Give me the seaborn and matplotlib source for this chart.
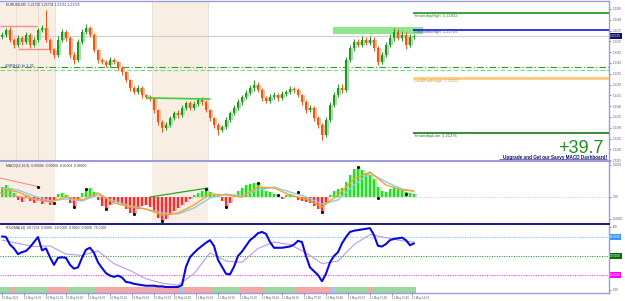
import numpy as np
import pandas as pd
import matplotlib
matplotlib.use("Agg")
import matplotlib.pyplot as plt
import seaborn as sns

sns.set_theme(style="white")
plt.rcParams['font.family'] = ['Liberation Sans', 'DejaVu Sans']

# ---------------- data ----------------
first_open = 1.21720
closes = [
    1.21730, 1.21753, 1.21707, 1.21683, 1.21716, 1.21697, 1.21730, 1.21683, 1.21707, 1.21753,
    1.21762, 1.21707, 1.21660, 1.21637, 1.21707, 1.21744, 1.21716, 1.21637, 1.21614, 1.21697,
    1.21744, 1.21762, 1.21730, 1.21660, 1.21614, 1.21605, 1.21591, 1.21614, 1.21605, 1.21577,
    1.21558, 1.21521, 1.21484, 1.21466, 1.21484, 1.21452, 1.21443, 1.21433, 1.21382, 1.21327,
    1.21299, 1.21313, 1.21345, 1.21369, 1.21359, 1.21392, 1.21415, 1.21392, 1.21410, 1.21429,
    1.21419, 1.21382, 1.21345, 1.21313, 1.21290, 1.21304, 1.21336, 1.21369, 1.21392, 1.21419,
    1.21443, 1.21461, 1.21484, 1.21498, 1.21475, 1.21438, 1.21424, 1.21443, 1.21452, 1.21438,
    1.21457, 1.21466, 1.21480, 1.21475, 1.21452, 1.21419, 1.21382, 1.21392, 1.21345, 1.21313,
    1.21267, 1.21336, 1.21406, 1.21452, 1.21484, 1.21475, 1.21614, 1.21669, 1.21697, 1.21683,
    1.21707, 1.21693, 1.21707, 1.21669, 1.21605, 1.21637, 1.21683, 1.21716, 1.21744, 1.21716,
    1.21730, 1.21683, 1.21720, 1.21725]
wick_up_pts = [
    12, 10, 15, 8, 14, 10, 12, 9, 15, 10,
    14, 83, 10, 8, 16, 12, 10, 8, 12, 15,
    12, 18, 10, 8, 6, 10, 8, 12, 9, 6,
    8, 6, 7, 10, 12, 8, 6, 9, 5, 6,
    8, 12, 10, 8, 12, 14, 10, 8, 12, 10,
    14, 8, 6, 7, 8, 10, 12, 10, 12, 14,
    10, 12, 14, 24, 12, 8, 10, 12, 14, 10,
    12, 10, 14, 10, 8, 6, 10, 12, 8, 10,
    8, 12, 14, 12, 18, 20, 14, 16, 12, 14,
    16, 12, 20, 14, 10, 12, 14, 18, 16, 14,
    16, 12, 14, 8]
wick_dn_pts = [
    10, 12, 8, 14, 10, 12, 8, 15, 10, 12,
    8, 10, 14, 12, 8, 10, 12, 14, 18, 10,
    8, 10, 12, 10, 14, 12, 10, 8, 12, 10,
    12, 10, 14, 10, 8, 12, 10, 8, 12, 14,
    18, 10, 8, 10, 12, 8, 10, 12, 8, 10,
    12, 10, 14, 12, 23, 10, 8, 10, 8, 10,
    12, 8, 10, 12, 10, 12, 10, 8, 10, 12,
    10, 8, 10, 12, 10, 12, 14, 10, 12, 14,
    23, 10, 8, 12, 10, 12, 8, 10, 12, 10,
    8, 12, 10, 14, 16, 12, 10, 8, 12, 10,
    12, 16, 10, 8]

price_ticks = [1.2185, 1.2180, 1.2175, 1.2170, 1.2165, 1.2160, 1.2155, 1.2150,
               1.2145, 1.2140, 1.2135, 1.2130, 1.2125, 1.2120, 1.2115]

level_names = ["YesterdayHigh", "LastWeekHigh", "LastMonthHigh", "YesterdayLow"]
level_values = [1.21832, 1.21755, 1.21531, 1.21276]
level_colors = ["#1f8f1f", "#1010ee", "#ffca78", "#157a15"]
level_widths = [1.2, 1.2, 2.0, 1.2]

zone_low, zone_high = 1.21734, 1.21767
sr_dashdot = 1.21582
sr_dashed = 1.21568
bid_price = 1.21725
pips_text = "+39.7"

# MACD histogram (points = 1e-5)
macd_hist_pts = [
    10, 12, 9, 4, -3, -5, 2, -4, -6, -3,
    -7, -5, -8, -4, 3, 4, 2, -6, -10, -4,
    4, 8, 9, 5, -3, -9, -12, -8, -5, -6,
    -8, -12, -16, -17, -12, -9, -8, -10, -15, -21,
    -24, -22, -18, -14, -11, -8, -5, -2, 2, 4,
    6, 8, 5, 2, 3, -4, -10, -6, 2, 6,
    9, 12, 13, 14, 14, 9, 6, 5, 3, 1,
    -2, 2, 3, 1, -3, -4, -5, -6, -9, -12,
    -15, -6, 2, 6, 8, 9, 15, 22, 28, 30,
    27, 24, 22, 18, 10, 6, 5, 8, 9, 8,
    7, 5, 4, 3]
line_idx = [0, 4, 8, 12, 16, 20, 24, 28, 32, 36, 40, 44, 48, 52, 56,
            60, 64, 68, 72, 76, 80, 84, 88, 92, 96, 100, 103]
macd_orange_pts = [8, 5, -2, -5, 0, -3, 4, -6, -10, -12, -18, -16, -8, 3, 2,
                   0, 10, 9, 2, -2, -10, 2, 18, 25, 12, 7, 6]
macd_blue_pts = [9, 7, 1, -4, -2, -4, 2, -4, -9, -12, -16, -17, -11, -1, 3,
                 1, 7, 10, 5, 0, -7, -3, 12, 24, 15, 8, 6]
dot_idx = [9, 13, 18, 21, 26, 33, 40, 51, 56, 64, 69, 74, 80, 89, 94, 101]
dot_pts = [10, -6, -10, 8, -12, -17, -24, 8, -10, 14, 2, 5, -15, 30, -1, 3]

# Oscillator
osc_main = [
    81, 80, 68, 62, 53, 56, 58, 64, 72, 80,
    59, 62, 48, 36, 47, 48, 47, 36, 30, 32,
    47, 60, 63, 55, 40, 31, 23, 19, 17, 19,
    16, 9, 8, 6, 5, 4, 3, 3, 3, 2,
    2, 1, 1, 1, 1, 4, 33, 48, 55, 61,
    66, 71, 75, 66, 44, 33, 22, 21, 33, 50,
    57, 66, 75, 80, 86, 88, 85, 72, 63, 63,
    63, 64, 65, 68, 74, 72, 50, 32, 26, 20,
    10, 22, 40, 50, 56, 70, 80, 88, 90, 91,
    92, 93, 94, 83, 66, 65, 69, 75, 77, 78,
    79, 75, 67, 70]
osc_signal = [75, 70, 65, 66, 53, 51, 58, 38, 27, 14, 7, 4, 22, 55, 42,
              40, 62, 72, 68, 55, 38, 42, 68, 84, 79, 74, 72]
osc_levels = [80, 50, 20]
osc_level_colors = ["#7cc4f8", "#3a9a3a", "#ff40ff"]
osc_level_box = ["#3399ff", "#0b6b0b", "#ff00ff"]
strip_state = ("gggrgggggggg" "rrrrr" "ggggggg" "rrrrrrrrrrrrrrrrrrrrr" "b"
               "rrrrrrr" "ggggggg" "rrrrrr" "gggggggg" "rrrrrrrrr" "b"
               "gggggggg" "r" "ggggggggggg")

time_idx = [0, 5.5, 11, 16, 21.5, 27, 32.5, 38, 43, 48.5, 54, 59.5, 65, 70,
            75.5, 81, 86.5, 92, 97.5, 102.5]
time_labels = ["10 May 2021", "10 May 14:00", "10 May 15:20", "10 May 16:40",
               "10 May 18:00", "10 May 19:20", "10 May 20:40", "10 May 22:00",
               "10 May 23:20", "11 May 00:40", "11 May 02:00", "11 May 03:20",
               "11 May 04:40", "11 May 06:00", "11 May 07:20", "11 May 08:40",
               "11 May 10:00", "11 May 11:20", "11 May 12:40", "11 May 14:00"]

# ---------------- figure ----------------
W, H = 625, 301
fig = plt.figure(figsize=(W / 100, H / 100), dpi=100)
fig.patch.set_facecolor("white")
right_frac = 609 / W
ax_main = fig.add_axes([0, 1 - 161 / H, right_frac, 160 / H])
ax_macd = fig.add_axes([0, 1 - 224 / H, right_frac, 62 / H])
ax_osc = fig.add_axes([0, 1 - 293 / H, right_frac, 68 / H])

SMALL = 2.2
xlim = (-0.5, 151.75)
frame = "#9c9cdc"
for ax in (ax_main, ax_macd, ax_osc):
    ax.set_facecolor("white")
    ax.set_xlim(*xlim)
    for s in ax.spines.values():
        s.set_color(frame)
        s.set_linewidth(1.0)
    ax.spines["left"].set_visible(False)
    ax.yaxis.tick_right()
    ax.tick_params(axis="y", labelsize=SMALL, length=1.5, width=0.5, pad=1,
                   colors="#55557a", right=True)
    ax.tick_params(axis="x", bottom=False, labelbottom=False)
ax_main.spines["bottom"].set_linewidth(2.2)
ax_macd.spines["top"].set_visible(False)
ax_macd.spines["bottom"].set_color("#1a1a80")
ax_macd.spines["bottom"].set_linewidth(1.4)
ax_osc.spines["top"].set_visible(False)

band_color = "#f9eee3"
for ax in (ax_main, ax_macd):
    ax.axvspan(-0.5, 13.25, color=band_color, lw=0, zorder=0)
    ax.axvspan(37.5, 51.5, color=band_color, lw=0, zorder=0)
for xv in (3.5, 9.0, 13.25, 37.5, 51.5):
    ax_main.axvline(xv, color="#e2d8cc", lw=0.5, zorder=0.5)

# ---------- main candles ----------
n = len(closes)
idx = np.arange(n)
c = np.array(closes)
o = np.array([first_open] + closes[:-1])
hi = np.maximum(o, c) + np.array(wick_up_pts) * 1e-5
lo = np.minimum(o, c) - np.array(wick_dn_pts) * 1e-5
bull = c >= o
body = np.where(np.abs(c - o) < 2e-6, 2e-6, c - o)
pale = np.where(bull, "#a6dca6", "#ffbe96")
strong = np.where(bull, "#1f9a1f", "#ff5010")
ax_main.bar(idx + 0.35, body, bottom=o, width=0.9, color=pale, lw=0, zorder=2)
ax_main.vlines(idx, lo, hi, colors=strong, lw=0.7, zorder=3)
ax_main.bar(idx, body, bottom=o, width=0.55, color=strong, lw=0, zorder=4)

ax_main.set_ylim(1.21146, 1.21887)
ax_main.set_yticks(price_ticks)
ax_main.set_yticklabels([f"{p:.4f}" for p in price_ticks])

# horizontal helpers
ax_main.axhline(bid_price, color="#cfcfcf", lw=0.8, zorder=1)
ax_main.axhline(sr_dashdot, color="#22aa22", lw=0.8, ls=(0, (6, 2, 1, 2)), zorder=1.5)
ax_main.axhline(sr_dashed, color="#77dd77", lw=0.8, ls=(0, (4, 2)), zorder=1.5)
ax_main.hlines(1.21771, -0.5, 8.75, color="#f29090", lw=1.0, zorder=1.6)
ax_main.hlines(1.21665, 4.0, 13.25, color="#f29090", lw=1.0, zorder=1.6)
ax_main.plot([36.25, 52.0], [1.21438, 1.21433], color="#3ccc3c", lw=1.2, zorder=5)

ax_main.fill_between([82.75, 105.25], zone_low, zone_high, color="#8fe68f",
                     lw=0, zorder=1.8)
for name, val, col, lw in zip(level_names, level_values, level_colors, level_widths):
    ax_main.hlines(val, 102.8, xlim[1], color=col, lw=lw, zorder=6)
    tcol = "#d49a30" if name == "LastMonthHigh" else ("#4a4aa0" if name == "LastWeekHigh" else col)
    ax_main.text(103.0, val - 0.00003, f"{name}  {val:.5f}", color=tcol,
                 fontsize=3.0, va="top", ha="left", zorder=7)

ax_main.text(0.8, sr_dashdot + 0.00002, "≡SR(H1) br 1.21", color="#303090",
             fontsize=2.8, va="center", ha="left", zorder=7)
ax_main.text(1.0, 1.21872, "EURUSD,M5  1.21720 1.21734 1.21711 1.21725",
             color="#333355", fontsize=2.4, va="center", ha="left")
ax_main.text(150.3, 1.21184, pips_text, color="#1e8c1e", fontsize=13,
             ha="right", va="baseline")
ax_main.text(151.2, 1.21161, "Upgrade and Get our Savvy MACD Dashboard!",
             color="#101070", fontsize=3.3, fontweight="bold", ha="right",
             va="center", zorder=7)
ax_main.hlines(1.21153, 124.3, 151.2, color="#101070", lw=0.4, zorder=7)
ax_main.text(1.002, bid_price, f"{bid_price:.5f}", transform=ax_main.get_yaxis_transform(),
             fontsize=SMALL, color="white", va="center", ha="left",
             bbox=dict(boxstyle="square,pad=0.2", fc="#10106a", ec="none"), clip_on=False)

# ---------- MACD ----------
hist = np.array(macd_hist_pts)
pos = hist >= 0
ax_macd.bar(idx + 0.3, hist, width=1.0, color=np.where(pos, "#a8f2a8", "#ffb8b8"),
            lw=0, zorder=2)
ax_macd.bar(idx, hist, width=0.6, color=np.where(pos, "#20e020", "#ff2a2a"),
            lw=0, zorder=3)
ax_macd.axhline(0, color="#bdbdbd", lw=0.6, ls=":", zorder=2.5)
macd_df = pd.DataFrame({"idx": line_idx, "orange": macd_orange_pts, "blue": macd_blue_pts})
sns.lineplot(data=macd_df, x="idx", y="blue", ax=ax_macd, color="#88ccf0", lw=1.0,
             legend=False, zorder=4)
sns.lineplot(data=macd_df, x="idx", y="orange", ax=ax_macd, color="#ffa020", lw=1.0,
             legend=False, zorder=4.5)
dots_df = pd.DataFrame({"idx": dot_idx, "v": dot_pts})
sns.scatterplot(data=dots_df, x="idx", y="v", ax=ax_macd, color="black", s=5,
                linewidth=0, zorder=6, legend=False)
ax_macd.plot([-0.5, 9.5], [19, 10], color="#f29090", lw=0.8, zorder=5)
ax_macd.plot([-0.5, 13.25], [4, -6], color="#f29090", lw=0.8, zorder=5)
ax_macd.plot([37.0, 51.5], [0, 9], color="#22aa22", lw=0.9, zorder=5)
ax_macd.set_ylim(-27, 35)
ax_macd.set_yticks([-22, 0, 32])
ax_macd.set_yticklabels(["-0.0002", "0.00", "0.0003"])
ax_macd.text(1.0, 31.5, "MACD(12,26,9)  0.00006  0.00008  0.00004  0.00002",
             color="#333355", fontsize=2.4, va="center", ha="left")
ax_macd.set_xlabel("")
ax_macd.set_ylabel("")

# ---------- Oscillator ----------
strip_cols = {"g": "#9ed69e", "r": "#f4a6a6", "b": "#9ccaf2"}
ax_osc.bar(idx, 9.0, bottom=-8.5, width=0.8, color=[strip_cols[s] for s in strip_state],
           lw=0, zorder=1)
for lv, col in zip(osc_levels, osc_level_colors):
    ax_osc.axhline(lv, color=col, lw=0.8, ls=(0, (1, 1.2)), zorder=1.5)
osc_df = pd.DataFrame({"idx": idx, "v": osc_main})
sig_df = pd.DataFrame({"idx": line_idx, "v": osc_signal})
sns.lineplot(data=sig_df, x="idx", y="v", ax=ax_osc, color="#b99ae6", lw=0.8,
             legend=False, zorder=2)
sns.lineplot(data=osc_df, x="idx", y="v", ax=ax_osc, color="#0a0ae0", lw=1.5,
             legend=False, zorder=3)
ax_osc.set_ylim(-8.5, 99)
ax_osc.set_yticks([-3, 96])
ax_osc.set_yticklabels(["0.00", "100"])
for lv, col in zip(osc_levels, osc_level_box):
    ax_osc.text(1.002, lv, f"{lv:.4f}", transform=ax_osc.get_yaxis_transform(),
                fontsize=SMALL, color="white", va="center", ha="left",
                bbox=dict(boxstyle="square,pad=0.2", fc=col, ec="none"), clip_on=False)
ax_osc.text(1.0, 95, "RSIOMA(14)  69.7238  0.0000  -10.0000  0.0000  0.0000  75.0000",
            color="#333355", fontsize=2.4, va="center", ha="left")
ax_osc.set_xticks(time_idx)
ax_osc.set_xticklabels(time_labels, ha="left")
ax_osc.tick_params(axis="x", bottom=True, labelbottom=True, labelsize=2.0,
                   length=1.5, width=0.5, pad=1, colors="#55557a")
ax_osc.set_xlabel("")
ax_osc.set_ylabel("")
ax_main.set_xlabel("")

fig.savefig("out.png", dpi=100, facecolor="white")
